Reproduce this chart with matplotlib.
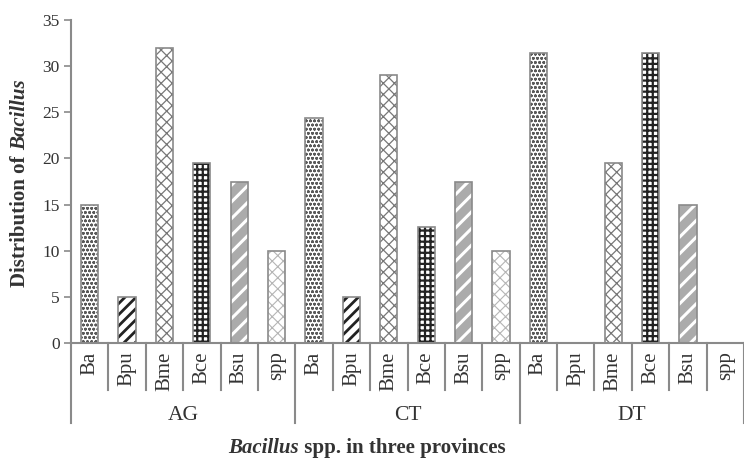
import matplotlib; matplotlib.use('Agg')
import matplotlib.pyplot as plt
import numpy as np

provinces = ["AG", "CT", "DT"]
species = ["Ba", "Bpu", "Bme", "Bce", "Bsu", "spp"]
ag_vals = [15.0, 5.0, 32.0, 19.5, 17.5, 10.0]
ct_vals = [24.4, 5.0, 29.0, 12.6, 17.5, 10.0]
dt_vals = [31.4, 0.0, 19.5, 31.4, 15.0, 0.0]

# (face, hatch colour, hatch, hatch lw) per species
styles = {
    "Ba": ("white", "#5a5a5a", "oooo", 0.8),
    "Bpu": ("white", "#222222", "///", 2.0),
    "Bme": ("white", "#777777", "xxx", 0.9),
    "Bce": ("white", "#222222", "+++", 1.6),
    "Bsu": ("#ababab", "white", "//", 2.2),
    "spp": ("white", "#b5b5b5", "xxx", 0.8),
}

plt.rcParams['font.family'] = ['Liberation Serif', 'DejaVu Serif']
TXT = "#333333"
SPINE = "#8a8a8a"

fig = plt.figure(figsize=(7.44, 4.58), dpi=100)
ax = fig.add_axes([71 / 744, 115 / 458, 1 - 71 / 744, 323 / 458])

values = [ag_vals, ct_vals, dt_vals]
labels = []
x = 0
for g, vals in enumerate(values):
    for sp, v in zip(species, vals):
        face, hc, hatch, hlw = styles[sp]
        with plt.rc_context({'hatch.linewidth': hlw}):
            b = ax.bar(x, v, width=0.46, facecolor=face, edgecolor=hc, linewidth=0, hatch=hatch)
            for p in b:
                if hasattr(p, "set_hatch_linewidth"):
                    p.set_hatch_linewidth(hlw)
        ax.bar(x, v, width=0.46, facecolor="none", edgecolor=SPINE, linewidth=1.2)
        labels.append(sp)
        x += 1

n = len(labels)
ax.set_xlim(-0.5, n - 0.5)
ax.set_ylim(0, 35)
ax.set_yticks(np.arange(0, 36, 5))
ax.set_xticks(range(n))
ax.set_xticklabels(labels, rotation=90, fontsize=15, color=TXT)
ax.tick_params(axis='x', length=0, pad=6)
ax.tick_params(axis='y', length=5, width=1.2, color=SPINE, labelsize=12.5, labelcolor=TXT, pad=3)
for s in ["top", "right"]:
    ax.spines[s].set_visible(False)
for s in ["left", "bottom"]:
    ax.spines[s].set_color(SPINE)
    ax.spines[s].set_linewidth(1.5)

# category separators below the axis
axh = 323.0
trans = ax.get_xaxis_transform()
for i in range(n + 1):
    long_line = i % len(species) == 0
    y_end = -80 / axh if long_line else -47 / axh
    ax.plot([i - 0.5, i - 0.5], [0, y_end], transform=trans, color=SPINE,
            linewidth=1.5, clip_on=False)

for g, prov in enumerate(provinces):
    cx = g * len(species) + (len(species) - 1) / 2
    ax.text(cx, -72 / axh, prov, transform=trans, ha='center', va='center',
            fontsize=15.5, color=TXT)

# y label: bold with italic genus
t1 = fig.text(20 / 744, 171 / 458, "Distribution of ", rotation=90, ha='center', va='bottom',
              fontsize=15, fontweight='bold', color=TXT)
ax.annotate("Bacillus", xy=(0.5, 1), xycoords=t1, ha='center', va='bottom', rotation=90,
            fontsize=15, fontweight='bold', fontstyle='italic', color=TXT, annotation_clip=False)

# x title
t2 = fig.text(228 / 744, 5 / 458, "Bacillus", ha='left', va='baseline',
              fontsize=15, fontweight='bold', fontstyle='italic', color=TXT)
ax.annotate(" spp. in three provinces", xy=(1, 0), xycoords=t2, ha='left', va='bottom',
            fontsize=15, fontweight='bold', color=TXT, annotation_clip=False)

fig.savefig("out.png", dpi=100)
